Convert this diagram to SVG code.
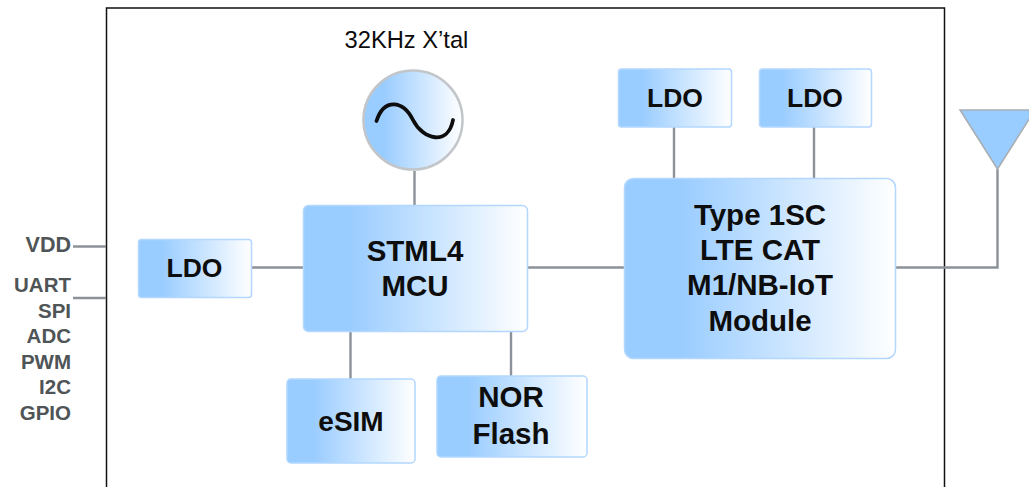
<svg xmlns="http://www.w3.org/2000/svg" width="1029" height="487" viewBox="0 0 1029 487">
<style>
text{font-family:"Liberation Sans",Arial,sans-serif;font-weight:bold;fill:#0d0d0d;text-anchor:middle}
.box{fill:url(#g);stroke:#b3d7ff;stroke-width:1.5}
.lbl{font-size:26.500px}
.big{font-size:29.500px}
.pin{font-size:20.500px;fill:#4f5557;text-anchor:end}
.wire{fill:none;stroke:#8b9299;stroke-width:2.400}
</style>
<defs>
<linearGradient id="g" x1="0" y1="0" x2="1" y2="0">
<stop offset="0" stop-color="#99ccff"/><stop offset="0.2" stop-color="#99ccff"/><stop offset="1" stop-color="#ffffff"/>
</linearGradient>
</defs>
<rect width="1029" height="487" fill="#fff"/>
<path id="frame" d="M106.500 487V8H944.500V487" fill="none" stroke="#111" stroke-width="1.500"/>
<g id="connectors" class="wire">
<path d="M73 246.500H106"/>
<path d="M73 298H106"/>
<path d="M251 267.500H304"/>
<path d="M414.500 171V205"/>
<path d="M350.500 332V379"/>
<path d="M511 332V376"/>
<path d="M528 267.500H624"/>
<path d="M674 127V178"/>
<path d="M814 127V178"/>
<path d="M896 267.500H997.500V169"/>
</g>
<g id="xtal">
<text x="406.500" y="48" style="font-size:23.700px;font-weight:normal">32KHz X’tal</text>
<circle cx="413" cy="120" r="49.500" fill="url(#g)" stroke="#c2c6ca" stroke-width="2.500"/>
<path d="M376.500 121C384 98 403 100 413 120S448 146 453 120" fill="none" stroke="#0d0d0d" stroke-width="3.800" stroke-linecap="round"/>
</g>
<g id="ldo-in"><rect class="box" x="138.500" y="239.500" width="113" height="58" rx="3"/><text class="lbl" x="194.500" y="277">LDO</text></g>
<g id="mcu"><rect class="box" x="303.500" y="205.500" width="224" height="126" rx="5"/><text class="big" x="415" y="261">STML4</text><text class="big" x="415" y="296">MCU</text></g>
<g id="esim"><rect class="box" x="287" y="379" width="128" height="84" rx="4"/><text class="big" x="351" y="431" style="font-size:28px">eSIM</text></g>
<g id="nor"><rect class="box" x="437" y="376" width="150" height="81" rx="4"/><text class="big" x="511" y="407">NOR</text><text class="big" x="511" y="444">Flash</text></g>
<g id="ldo-a"><rect class="box" x="618.500" y="69" width="113" height="58" rx="3"/><text class="lbl" x="675" y="107">LDO</text></g>
<g id="ldo-b"><rect class="box" x="759.500" y="69" width="112" height="58" rx="3"/><text class="lbl" x="815" y="107">LDO</text></g>
<g id="module"><rect class="box" x="624.500" y="178.500" width="271" height="180" rx="9"/>
<text class="big" x="760" y="225">Type 1SC</text><text class="big" x="760" y="260">LTE CAT</text><text class="big" x="760" y="295">M1/NB-IoT</text><text class="big" x="760" y="331">Module</text></g>
<g id="antenna"><path d="M960 110H1035L997.500 169Z" fill="#99ccff" stroke="#a9adb2" stroke-width="1.500"/></g>
<g id="pins">
<text class="pin" x="71" y="252" style="font-size:21.500px">VDD</text>
<text class="pin" x="71" y="292">UART</text>
<text class="pin" x="71" y="318">SPI</text>
<text class="pin" x="71" y="343">ADC</text>
<text class="pin" x="71" y="369">PWM</text>
<text class="pin" x="71" y="394">I2C</text>
<text class="pin" x="71" y="420">GPIO</text>
</g>
</svg>
